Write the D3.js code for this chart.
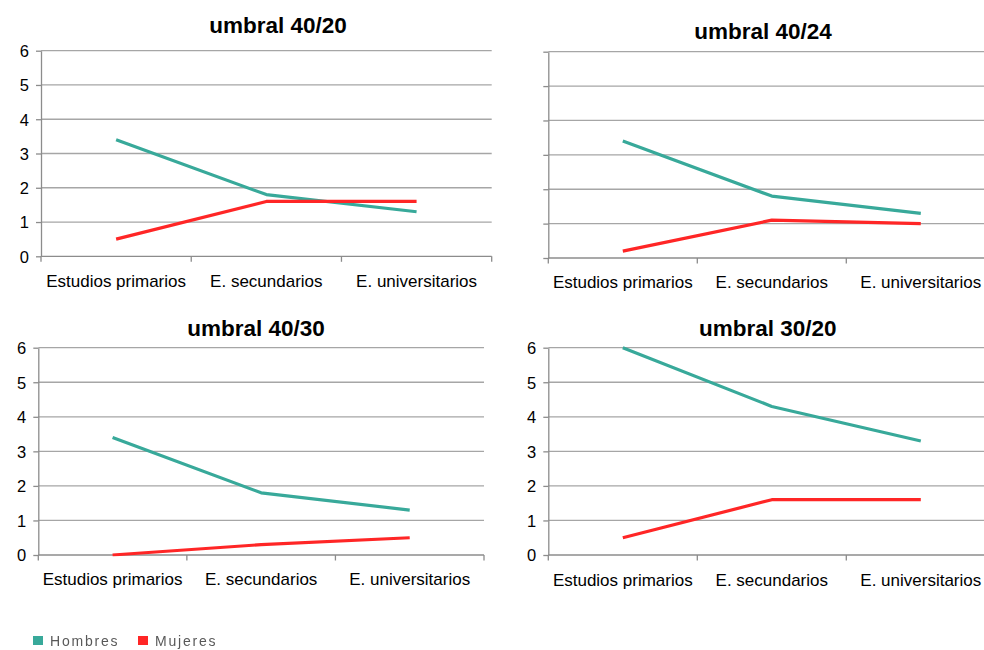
<!DOCTYPE html>
<html>
<head>
<meta charset="utf-8">
<script src="https://cdn.jsdelivr.net/npm/d3@7"></script>
<style>
  html, body { margin: 0; padding: 0; background: #fff; }
  svg { display: block; }
  text { font-family: "Liberation Sans", Arial, sans-serif; }
</style>
</head>
<body>
<svg id="chart" width="984" height="650"></svg>
<script>
// Education levels shown on every x axis
const categories = ["Estudios primarios", "E. secundarios", "E. universitarios"];
const yTicks = [0, 1, 2, 3, 4, 5, 6];
const seriesNames = ["Hombres", "Mujeres"];
const seriesColors = ["#38a99a", "#ff2626"];

// Values per threshold panel
const titles = ["umbral 40/20", "umbral 40/24", "umbral 40/30", "umbral 30/20"];
const hombres4020 = [3.4, 1.8, 1.3];
const mujeres4020 = [0.5, 1.6, 1.6];
const hombres4024 = [3.4, 1.8, 1.3];
const mujeres4024 = [0.2, 1.1, 1.0];
const hombres4030 = [3.4, 1.8, 1.3];
const mujeres4030 = [0.0, 0.3, 0.5];
const hombres3020 = [6.0, 4.3, 3.3];
const mujeres3020 = [0.5, 1.6, 1.6];

const svg = d3.select("#chart");

const defs = svg.append("defs");
defs.append("filter").attr("id", "soft")
  .append("feGaussianBlur").attr("stdDeviation", 0.45);

// Panel frames (plot area in page pixels)
const panels = [
  { title: titles[0], series: [hombres4020, mujeres4020], x0: 41, x1: 491.7, yTop: 50.7, yBot: 256.3,
    labels: true, titleX: 278, titleY: 33, catY: 287 },
  { title: titles[1], series: [hombres4024, mujeres4024], x0: 548.3, x1: 995.3, yTop: 51.7, yBot: 258,
    labels: false, titleX: 763, titleY: 39, catY: 288 },
  { title: titles[2], series: [hombres4030, mujeres4030], x0: 38.3, x1: 484, yTop: 347.7, yBot: 555,
    labels: true, titleX: 256, titleY: 336, catY: 585 },
  { title: titles[3], series: [hombres3020, mujeres3020], x0: 548.3, x1: 995.3, yTop: 347.7, yBot: 555,
    labels: true, titleX: 767.7, titleY: 336, catY: 586 }
];

panels.forEach((p, pi) => {
  const g = svg.append("g");

  const x = d3.scaleBand().domain(categories).range([p.x0, p.x1]);
  const y = d3.scaleLinear().domain([0, 6]).range([p.yBot, p.yTop]);

  // horizontal gridlines
  g.append("g").selectAll("line").data(yTicks.filter(d => d > 0)).join("line")
    .attr("x1", p.x0).attr("x2", p.x1)
    .attr("y1", d => y(d)).attr("y2", d => y(d))
    .attr("stroke", "#a6a6a6").attr("stroke-width", 1.3);

  // y axis with short outward ticks
  const yAxis = d3.axisLeft(y).tickValues(yTicks).tickSize(5).tickSizeOuter(0)
    .tickFormat(p.labels ? d3.format("d") : () => "");
  const ya = g.append("g").attr("transform", `translate(${p.x0},0)`).call(yAxis);
  ya.select(".domain").attr("stroke", "#8c8c8c").attr("stroke-width", 1.3);
  ya.selectAll(".tick line").attr("stroke", "#8c8c8c").attr("stroke-width", 1.3);
  ya.selectAll(".tick text").attr("x", -12).attr("dy", "0.36em")
    .attr("font-size", 16.5).attr("fill", "#000")
    .style("font-family", '"Liberation Sans", Arial, sans-serif');

  // x axis: ticks on band boundaries, labels centred in each band
  const bounds = categories.map(c => x(c)).concat([p.x1]);
  g.append("line").attr("x1", p.x0).attr("x2", p.x1)
    .attr("y1", p.yBot).attr("y2", p.yBot)
    .attr("stroke", "#8c8c8c").attr("stroke-width", 1.3);
  g.append("g").selectAll("line").data(bounds).join("line")
    .attr("x1", d => d).attr("x2", d => d)
    .attr("y1", p.yBot).attr("y2", p.yBot + 5.5)
    .attr("stroke", "#8c8c8c").attr("stroke-width", 1.3);
  g.append("g").selectAll("text").data(categories).join("text")
    .attr("x", d => x(d) + x.bandwidth() / 2)
    .attr("y", p.catY)
    .attr("text-anchor", "middle")
    .attr("font-size", 17).attr("fill", "#000")
    .text(d => d);

  // title
  g.append("text").attr("x", p.titleX).attr("y", p.titleY)
    .attr("text-anchor", "middle").attr("font-size", 22.5).attr("font-weight", "bold")
    .text(p.title);

  // clip series to the plot area
  const clipId = "clip" + pi;
  defs.append("clipPath").attr("id", clipId).append("rect")
    .attr("x", p.x0).attr("y", p.yTop - 1.6)
    .attr("width", p.x1 - p.x0).attr("height", p.yBot - p.yTop + 3.2);

  const line = d3.line()
    .x((d, i) => x(categories[i]) + x.bandwidth() / 2)
    .y(d => y(d));

  g.append("g").attr("clip-path", `url(#${clipId})`)
    .selectAll("path").data(p.series).join("path")
    .attr("d", d => line(d))
    .attr("fill", "none")
    .attr("stroke", (d, i) => seriesColors[i])
    .attr("stroke-width", 3.2)
    .attr("stroke-linejoin", "round");
});

// legend
const legend = svg.append("g").attr("transform", "translate(33,636)")
  .attr("filter", "url(#soft)");
let lx = 0;
seriesNames.forEach((name, i) => {
  const item = legend.append("g").attr("transform", `translate(${lx},0)`);
  item.append("rect").attr("width", 10).attr("height", 9).attr("fill", seriesColors[i]);
  item.append("text").attr("x", 17).attr("y", 9.5)
    .attr("font-size", 14).attr("letter-spacing", 1.8)
    .attr("fill", "#595959").text(name);
  lx += 105;
});
</script>
</body>
</html>
